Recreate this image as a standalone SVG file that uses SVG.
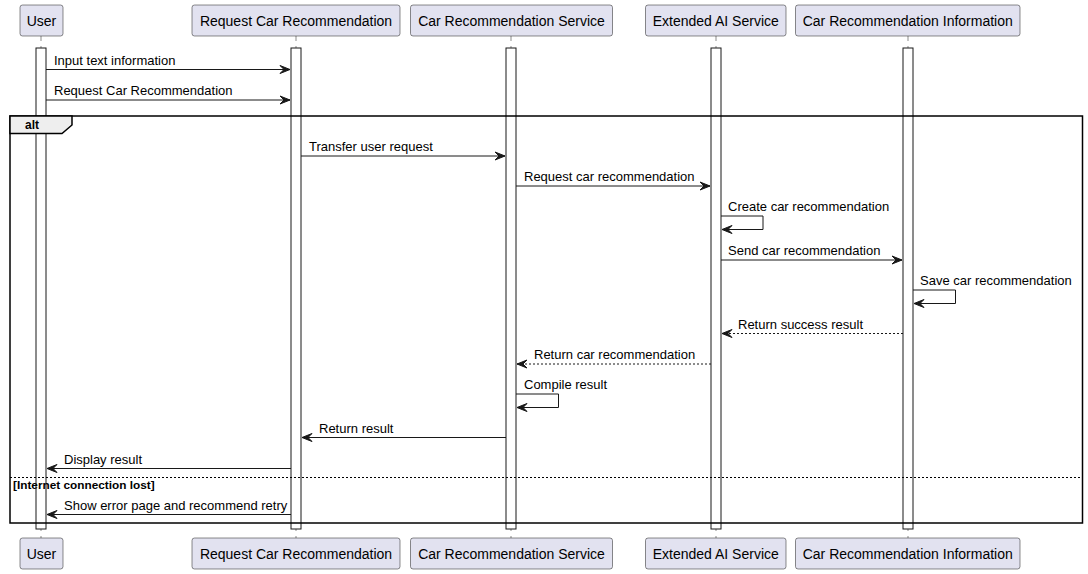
<svg xmlns="http://www.w3.org/2000/svg" width="1088" height="574" viewBox="0 0 1088 574">
<style>
.pbox{fill:#E2E2F0;stroke:#181818;stroke-width:0.5}
.ptxt{font-family:"Liberation Sans",Arial,sans-serif;font-size:14px;fill:#000;text-anchor:middle}
.life{stroke:#181818;stroke-width:0.5;stroke-dasharray:5,5}
.act{fill:#FFFFFF;stroke:#181818;stroke-width:1}
.msg{stroke:#181818;stroke-width:1;fill:none;marker-end:url(#arr)}
.ret{stroke-dasharray:2,2}
.mtxt{font-family:"Liberation Sans",Arial,sans-serif;font-size:13px;fill:#000}
.frame{fill:none;stroke:#000;stroke-width:1.5}
.tab{fill:#EEEEEE;stroke:#000;stroke-width:1.5}
.ftxt{font-family:"Liberation Sans",Arial,sans-serif;font-weight:bold;fill:#000}
</style>
<defs>
<marker id="arr" viewBox="-1 -1 12 10" refX="10" refY="4" markerWidth="12" markerHeight="10" markerUnits="userSpaceOnUse" orient="auto">
<path d="M0,0 L10,4 L0,8 L4,4 Z" fill="#181818" stroke="#181818" stroke-width="1" stroke-linejoin="miter"/>
</marker>
</defs>
<rect width="1088" height="574" fill="#FFFFFF"/>
<g id="lifelines">
<line class="life" x1="41" y1="36" x2="41" y2="538"/>
<line class="life" x1="296" y1="36" x2="296" y2="538"/>
<line class="life" x1="511" y1="36" x2="511" y2="538"/>
<line class="life" x1="716" y1="36" x2="716" y2="538"/>
<line class="life" x1="908" y1="36" x2="908" y2="538"/>
<rect class="act" x="36" y="48" width="10" height="481"/>
<rect class="act" x="291" y="48" width="10" height="481"/>
<rect class="act" x="506" y="48" width="10" height="481"/>
<rect class="act" x="711" y="48" width="10" height="481"/>
<rect class="act" x="903" y="48" width="10" height="481"/>
</g>
<g id="alt-frame">
<rect class="frame" x="10" y="116" width="1072.5" height="407"/>
<polygon class="tab" points="10,116 72,116 72,125 62,133.5 10,133.5"/>
<text class="ftxt" x="25" y="129" font-size="12">alt</text>
<line x1="10" y1="477.5" x2="1082.5" y2="477.5" stroke="#000" stroke-width="1" stroke-dasharray="2,2"/>
<text class="ftxt" x="13" y="488.5" font-size="11.8">[Internet connection lost]</text>
</g>
<g id="participants">
<g id="p-user"><rect class="pbox" x="20" y="5" width="43" height="31" rx="2.5"/><text class="ptxt" x="41.5" y="25.5">User</text>
<rect class="pbox" x="20" y="538" width="43" height="31" rx="2.5"/><text class="ptxt" x="41.5" y="558.5">User</text></g>
<g id="p-rcr"><rect class="pbox" x="192" y="5" width="208" height="31" rx="2.5"/><text class="ptxt" x="296" y="25.5">Request Car Recommendation</text>
<rect class="pbox" x="192" y="538" width="208" height="31" rx="2.5"/><text class="ptxt" x="296" y="558.5">Request Car Recommendation</text></g>
<g id="p-crs"><rect class="pbox" x="410.5" y="5" width="202" height="31" rx="2.5"/><text class="ptxt" x="511.5" y="25.5">Car Recommendation Service</text>
<rect class="pbox" x="410.5" y="538" width="202" height="31" rx="2.5"/><text class="ptxt" x="511.5" y="558.5">Car Recommendation Service</text></g>
<g id="p-eai"><rect class="pbox" x="645.5" y="5" width="140.5" height="31" rx="2.5"/><text class="ptxt" x="715.75" y="25.5">Extended AI Service</text>
<rect class="pbox" x="645.5" y="538" width="140.5" height="31" rx="2.5"/><text class="ptxt" x="715.75" y="558.5">Extended AI Service</text></g>
<g id="p-cri"><rect class="pbox" x="795.5" y="5" width="224.5" height="31" rx="2.5"/><text class="ptxt" x="907.75" y="25.5">Car Recommendation Information</text>
<rect class="pbox" x="795.5" y="538" width="224.5" height="31" rx="2.5"/><text class="ptxt" x="907.75" y="558.5">Car Recommendation Information</text></g>
</g>
<g id="connectors">
<line class="msg" x1="46" y1="69.5" x2="290" y2="69.5"/>
<text class="mtxt" x="54" y="64.5">Input text information</text>
<line class="msg" x1="46" y1="100" x2="290" y2="100"/>
<text class="mtxt" x="54" y="95">Request Car Recommendation</text>
<line class="msg" x1="301" y1="156" x2="505" y2="156"/>
<text class="mtxt" x="309" y="151">Transfer user request</text>
<line class="msg" x1="516" y1="186" x2="710" y2="186"/>
<text class="mtxt" x="524" y="181">Request car recommendation</text>
<path class="msg" d="M721,216 H763 V229.5 H722"/>
<text class="mtxt" x="728" y="211">Create car recommendation</text>
<line class="msg" x1="721" y1="260" x2="902" y2="260"/>
<text class="mtxt" x="728" y="255">Send car recommendation</text>
<path class="msg" d="M913,290 H955.5 V303.5 H914"/>
<text class="mtxt" x="920" y="285">Save car recommendation</text>
<line class="msg ret" x1="903" y1="333.5" x2="722" y2="333.5"/>
<text class="mtxt" x="738" y="328.5">Return success result</text>
<line class="msg ret" x1="711" y1="364" x2="517" y2="364"/>
<text class="mtxt" x="534" y="359">Return car recommendation</text>
<path class="msg" d="M516,394 H558.5 V407.5 H517"/>
<text class="mtxt" x="524" y="389">Compile result</text>
<line class="msg" x1="506" y1="437.5" x2="302" y2="437.5"/>
<text class="mtxt" x="319" y="432.5">Return result</text>
<line class="msg" x1="291" y1="468.5" x2="47" y2="468.5"/>
<text class="mtxt" x="64" y="463.5">Display result</text>
<line class="msg" x1="291" y1="514.5" x2="47" y2="514.5"/>
<text class="mtxt" x="64" y="509.5">Show error page and recommend retry</text>
</g>
</svg>
